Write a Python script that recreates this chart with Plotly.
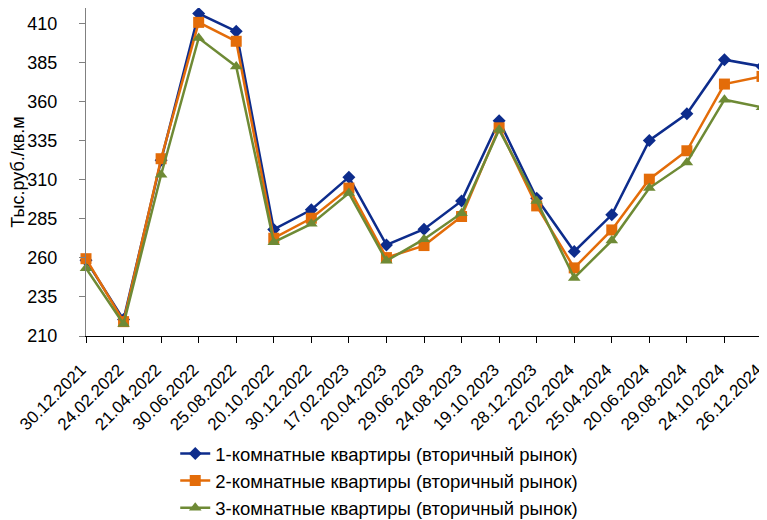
import plotly.graph_objects as go

dates = ["30.12.2021", "24.02.2022", "21.04.2022", "30.06.2022", "25.08.2022", "20.10.2022",
         "30.12.2022", "17.02.2023", "20.04.2023", "29.06.2023", "24.08.2023", "19.10.2023",
         "28.12.2023", "22.02.2024", "25.04.2024", "20.06.2024", "29.08.2024", "24.10.2024",
         "26.12.2024"]

room1 = [258.5, 220.5, 322.5, 416.4, 405.1, 278.2, 290.8, 311.7, 268.3, 278.4, 296.5, 347.8,
         298.2, 264.1, 287.6, 335.2, 352.3, 386.9, 382.6]
room2 = [259.5, 219.2, 323.5, 410.8, 398.7, 272.6, 285.4, 304.7, 260.2, 267.9, 286.5, 343.3,
         293.3, 253.6, 277.9, 310.4, 328.6, 371.3, 376.2]
room3 = [253.4, 217.7, 313.2, 400.8, 382.6, 270.1, 281.8, 301.5, 258.1, 272.0, 288.6, 342.0,
         296.5, 247.2, 271.1, 304.7, 321.1, 361.3, 356.4]

names = ["1-комнатные квартиры (вторичный рынок)",
         "2-комнатные квартиры (вторичный рынок)",
         "3-комнатные квартиры (вторичный рынок)"]
colors = ["#0D2C8C", "#E36C09", "#6E8A35"]
symbols = ["diamond", "square", "triangle-up"]
sizes = [10, 11, 11]

fig = go.Figure()
for vals, name, c, s, sz in zip([room1, room2, room3], names, colors, symbols, sizes):
    fig.add_trace(go.Scatter(
        x=list(range(len(dates))), y=vals, name=name, mode="lines+markers",
        line=dict(color=c, width=2.5),
        marker=dict(symbol=s, size=sz, color=c),
        cliponaxis=False,
    ))

# page body has an 8px default margin, so the figure is sized to fit inside it
fig.update_layout(
    width=759, height=512,
    margin=dict(l=78, r=5, t=0, b=184, autoexpand=False),
    paper_bgcolor="white", plot_bgcolor="white",
    font=dict(family="Liberation Sans, Arial, sans-serif", size=18, color="#000"),
    showlegend=True,
    legend=dict(x=0.132, xref="paper", y=0.166, yref="container",
                xanchor="left", yanchor="top",
                font=dict(size=18.5), tracegroupgap=0),
    xaxis=dict(
        range=[0, 18], tickmode="array", tickvals=list(range(len(dates))), ticktext=dates,
        tickangle=-45, showgrid=False, zeroline=False, automargin=False,
        showline=True, linecolor="#000", linewidth=1.3,
        ticks="outside", ticklen=6, tickcolor="#000", ticklabelstandoff=10,
        ticklabelshift=-5, ticklabeloverflow="allow",
        tickfont=dict(size=17),
    ),
    yaxis=dict(
        range=[210, 420], tick0=210, dtick=25, showgrid=False, zeroline=False, automargin=False,
        showline=True, linecolor="#808080", linewidth=1.3,
        ticks="outside", ticklen=6, tickcolor="#808080", ticklabelstandoff=18,
        tickfont=dict(size=18),
        title=dict(text="Тыс.руб./кв.м", font=dict(size=18), standoff=9),
    ),
)

fig.write_html("out.html")
